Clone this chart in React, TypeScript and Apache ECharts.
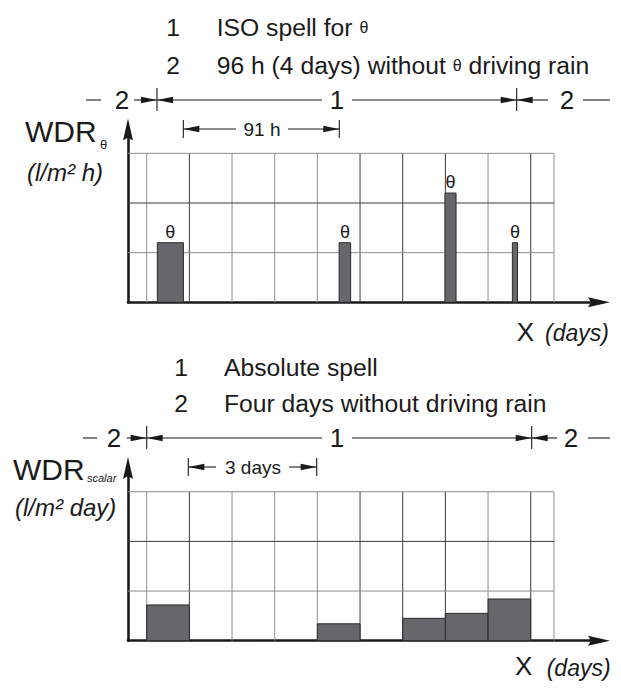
import React, { useEffect, useRef } from "react";
import * as echarts from "echarts";

// ---------- data ----------
const dayBoundaries = [0, 1, 2, 3, 4, 5, 6, 7, 8, 9];
const dayLineDark = [0, 1, 0, 0, 0, 1, 1, 1, 0, 1];
const gridLeftEdge = -0.438;
const gridRightEdge = 9.545;
const gridLevels = [1, 2, 3];
const gridLevelDark = [0, 1, 0];

const isoStart = [0.25, 4.51, 6.99, 8.57];
const isoEnd = [0.86, 4.78, 7.25, 8.69];
const isoWDR = [1.2, 1.2, 2.2, 1.2];
const isoMark = "θ";

const scalarDay = [0, 4, 6, 7, 8];
const scalarWDR = [0.72, 0.34, 0.45, 0.55, 0.84];

const topLegendNums = ["1", "2"];
const topLegendText = ["{t|ISO spell for }{s|θ}", "{t|96 h (4 days) without }{s|θ}{t| driving rain}"];
const bottomLegendNums = ["1", "2"];
const bottomLegendText = ["Absolute spell", "Four days without driving rain"];
const spanLabels = ["2", "1", "2"];
const topDimLabel = "91 h";
const bottomDimLabel = "3 days";

// ---------- style ----------
const FONT = '"Liberation Sans", Arial, Helvetica, sans-serif';
const INK = "#1a1a1a";
const GRID_DARK = "#3a3a3a";
const GRID_LIGHT = "#8e8e8e";
const BAR_FILL = "#66676a";
const ARROW = "path://M5 0 L10 22 L5 19 L0 22 Z";

const xMax = 10.6;
const yMax = 3.48;

function txt(x: number, y: number, text: string, size: number, opt: any = {}) {
  const align = opt.align || "left";
  const style: any = {
    text,
    x,
    y,
    font: `${opt.italic ? "italic " : ""}${size}px ${FONT}`,
    fill: INK,
    align,
    textAlign: align,
    verticalAlign: "middle",
    textVerticalAlign: "middle",
  };
  if (opt.rich) style.rich = opt.rich;
  return { type: "text", silent: true, style };
}
function ln(x1: number, y1: number, x2: number, y2: number, w = 1.1) {
  return { type: "line", silent: true, shape: { x1, y1, x2, y2 }, style: { stroke: INK, lineWidth: w } };
}
function head(tipX: number, y: number, dir: number, len = 16, half = 3.3) {
  return {
    type: "polygon",
    silent: true,
    shape: { points: [[tipX, y], [tipX - dir * len, y - half], [tipX - dir * len, y + half]] },
    style: { fill: INK },
  };
}

function spanRow(y: number, p: any) {
  return [
    ln(p.dashL[0], y, p.dashL[1], y),
    txt(p.twoL, y, spanLabels[0], 26, { align: "center" }),
    ln(p.arrowStart, y, p.tickL, y),
    head(p.tickL, y, 1),
    ln(p.tickL, y - 12, p.tickL, y + 11),
    head(p.tickL, y, -1),
    ln(p.tickL, y, p.oneL, y),
    txt(p.one, y, spanLabels[1], 26, { align: "center" }),
    ln(p.oneR, y, p.tickR, y),
    head(p.tickR, y, 1),
    ln(p.tickR, y - 12, p.tickR, y + 11),
    head(p.tickR, y, -1),
    ln(p.tickR, y, p.arrowEnd, y),
    txt(p.twoR, y, spanLabels[2], 26, { align: "center" }),
    ln(p.dashR[0], y, p.dashR[1], y),
  ];
}

function dimRow(y: number, p: any, label: string) {
  return [
    ln(p.a, y - 9, p.a, y + 9),
    head(p.a, y, -1),
    ln(p.a, y, p.lEnd, y),
    txt(p.c, y, label, 19, { align: "center" }),
    ln(p.rStart, y, p.b, y),
    head(p.b, y, 1),
    ln(p.b, y - 9, p.b, y + 9),
  ];
}

function axes(idx: number) {
  const axisLine = {
    show: true,
    onZero: false,
    symbol: ["none", ARROW],
    symbolSize: [10, 22],
    lineStyle: { color: INK, width: 2.6 },
  };
  return {
    x: {
      type: "value",
      gridIndex: idx,
      min: gridLeftEdge,
      max: xMax,
      axisLine,
      axisTick: { show: false },
      axisLabel: { show: false },
      splitLine: { show: false },
    },
    y: {
      type: "value",
      gridIndex: idx,
      min: 0,
      max: yMax,
      axisLine,
      axisTick: { show: false },
      axisLabel: { show: false },
      splitLine: { show: false },
    },
  };
}

function gridSeries(idx: number) {
  const data: any[] = [];
  dayBoundaries.forEach((d, i) => data.push([0, d, dayLineDark[i]]));
  data.push([0, gridRightEdge, 0]);
  gridLevels.forEach((l, i) => data.push([1, l, gridLevelDark[i]]));
  return {
    type: "custom",
    xAxisIndex: idx,
    yAxisIndex: idx,
    z: 1,
    silent: true,
    data,
    renderItem: (_p: any, api: any) => {
      const kind = api.value(0);
      const v = api.value(1);
      const dark = api.value(2);
      let p0, p1;
      if (kind === 0) {
        p0 = api.coord([v, 0]);
        p1 = api.coord([v, gridLevels[gridLevels.length - 1]]);
      } else {
        p0 = api.coord([gridLeftEdge, v]);
        p1 = api.coord([gridRightEdge, v]);
      }
      return {
        type: "line",
        shape: { x1: p0[0], y1: p0[1], x2: p1[0], y2: p1[1] },
        style: { stroke: dark ? GRID_DARK : GRID_LIGHT, lineWidth: 1 },
      };
    },
  };
}

function barSeries(idx: number, data: number[][], mark: string | null) {
  return {
    type: "custom",
    xAxisIndex: idx,
    yAxisIndex: idx,
    z: 3,
    silent: true,
    data,
    encode: { x: [0, 1], y: 2 },
    renderItem: (_p: any, api: any) => {
      const tl = api.coord([api.value(0), api.value(2)]);
      const br = api.coord([api.value(1), 0]);
      const children: any[] = [
        {
          type: "rect",
          shape: { x: tl[0], y: tl[1], width: br[0] - tl[0], height: br[1] - tl[1] },
          style: { fill: BAR_FILL, stroke: "#2a2a2a", lineWidth: 1 },
        },
      ];
      if (mark) {
        children.push({
          type: "text",
          style: {
            text: mark,
            x: (tl[0] + br[0]) / 2,
            y: tl[1] - 11,
            font: `18px ${FONT}`,
            fill: INK,
            align: "center",
            textAlign: "center",
            verticalAlign: "middle",
            textVerticalAlign: "middle",
          },
        });
      }
      return { type: "group", children };
    },
  };
}

export default function App() {
  const ref = useRef<HTMLDivElement>(null);
  useEffect(() => {
    if (!ref.current) return;
    const chart = echarts.init(ref.current, null, { renderer: "svg" });
    const a0 = axes(0);
    const a1 = axes(1);
    const isoData = isoStart.map((s, i) => [s, isoEnd[i], isoWDR[i]]);
    const scalarData = scalarDay.map((d, i) => [d, d + 1, scalarWDR[i]]);
    const richTop = {
      t: { font: `24.7px ${FONT}`, fill: INK },
      s: { font: `16px ${FONT}`, fill: INK },
    };

    const graphics: any[] = [
      // top legend
      txt(173, 27, topLegendNums[0], 24.7, { align: "center" }),
      txt(216.7, 27, topLegendText[0], 24.7, { rich: richTop }),
      txt(173, 65, topLegendNums[1], 24.7, { align: "center" }),
      txt(216.7, 65, topLegendText[1], 24.7, { rich: richTop }),
      ...spanRow(100, {
        dashL: [86, 101],
        twoL: 122,
        arrowStart: 134,
        tickL: 157,
        oneL: 322,
        one: 337,
        oneR: 352,
        tickR: 516.7,
        arrowEnd: 548,
        twoR: 567,
        dashR: [583, 610],
      }),
      ...dimRow(129, { a: 183.3, lEnd: 236, c: 262, rStart: 288, b: 339.3 }, topDimLabel),
      // top y label
      txt(25, 131, "WDR", 30),
      txt(100, 144, "θ", 13),
      txt(27, 172, "(l/m² h)", 24, { italic: true }),
      // top x label
      txt(516.7, 331.5, "X", 26),
      txt(545, 333, "(days)", 23, { italic: true }),

      // bottom legend
      txt(181, 367, bottomLegendNums[0], 24.7, { align: "center" }),
      txt(224, 367, bottomLegendText[0], 24.7),
      txt(181, 403, bottomLegendNums[1], 24.7, { align: "center" }),
      txt(224, 403, bottomLegendText[1], 24.7),
      ...spanRow(438, {
        dashL: [83, 97],
        twoL: 114,
        arrowStart: 127,
        tickL: 146.7,
        oneL: 322,
        one: 337,
        oneR: 352,
        tickR: 531.7,
        arrowEnd: 557,
        twoR: 571,
        dashR: [588, 610],
      }),
      ...dimRow(467, { a: 188.3, lEnd: 216, c: 253, rStart: 289, b: 316.7 }, bottomDimLabel),
      // bottom y label
      txt(13, 469, "WDR", 30),
      txt(87, 478, "scalar", 11, { italic: true }),
      txt(15, 507, "(l/m² day)", 24, { italic: true }),
      // bottom x label
      txt(515, 666, "X", 26),
      txt(546.7, 667.5, "(days)", 23, { italic: true }),
    ];

    chart.setOption({
      animation: false,
      backgroundColor: "#ffffff",
      grid: [
        { left: 128, top: 129.5, width: 471, height: 172.8 },
        { left: 128, top: 467.9, width: 471, height: 172.8 },
      ],
      xAxis: [a0.x, a1.x],
      yAxis: [a0.y, a1.y],
      series: [
        gridSeries(0),
        gridSeries(1),
        barSeries(0, isoData, isoMark),
        barSeries(1, scalarData, null),
      ],
      graphic: { elements: graphics },
    });
    return () => chart.dispose();
  }, []);
  return (
    <div
      ref={ref}
      style={{ position: "fixed", left: 0, top: 0, width: 621, height: 698, background: "#fff" }}
    />
  );
}
